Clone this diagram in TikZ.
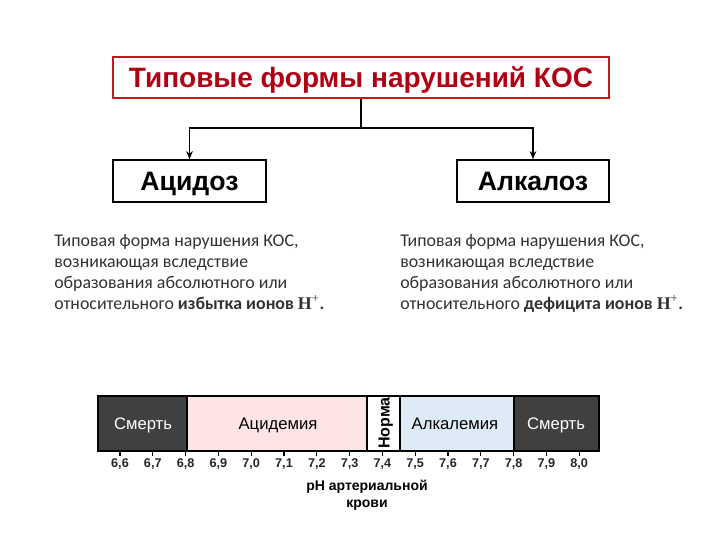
\documentclass[tikz,border=0pt]{standalone}
\usepackage{fontspec}
\setmainfont{Liberation Sans}
\newfontfamily\calfont{Carlito}
\newfontfamily\tmsfont{Liberation Serif}
\usetikzlibrary{arrows.meta}
\definecolor{titlered}{RGB}{175,0,20}
\definecolor{borderred}{RGB}{200,20,30}
\definecolor{deathgray}{RGB}{64,64,64}
\definecolor{acidpink}{RGB}{252,228,228}
\definecolor{alkblue}{RGB}{222,234,246}
\definecolor{paratext}{RGB}{50,50,50}
\tikzset{
  titlebox/.style={draw=borderred, line width=1.5pt, fill=white, minimum width=372pt, minimum height=30.75pt, inner sep=0pt,
     text height=15pt, text depth=0pt,
     font=\fontsize{21}{24}\selectfont\bfseries, text=titlered},
  kindbox/.style={draw=black, line width=1.3pt, fill=white, minimum height=31.5pt, inner sep=0pt,
     text height=14.3pt, text depth=0pt,
     font=\fontsize{20}{24}\selectfont\bfseries},
  conn/.style={line width=1.2pt, draw=black},
  para/.style={anchor=base west, align=left, inner sep=0pt, text=paratext,
     font=\calfont\fontsize{13.4}{15.75}\selectfont},
  barlabel/.style={font=\fontsize{12.5}{14}\selectfont, inner sep=0pt, text height=9pt, text depth=0pt},
  ticklabel/.style={font=\fontsize{9.5}{11}\selectfont\bfseries, text=black!85, inner sep=0pt},
  tickmark/.style={line width=0.9pt},
}
\newcommand{\Hplus}{{\tmsfont\bfseries H}\textsuperscript{\tmsfont +}}
\begin{document}
\begin{tikzpicture}[x=0.75pt, y=-0.75pt]
\useasboundingbox (0,0) rectangle (720,540);
% top
\node[titlebox] (title) at (361,77.5) {Типовые формы нарушений КОС};
\node[kindbox, minimum width=114.75pt] (acid) at (189.5,181) {Ацидоз};
\node[kindbox, minimum width=114pt] (alk) at (533,181) {Алкалоз};
\coordinate (j) at (361,128);
\draw[conn] (title.south) -- (j);
\draw[conn, -{Stealth[length=6pt,width=5pt]}] (j) -| (acid.north);
\draw[conn, -{Stealth[length=6pt,width=5pt]}] (j) -| (alk.north);
% paragraphs (anchor = baseline of last line)
\node[para] (pleft) at (54,309) {Типовая форма нарушения КОС,\\возникающая вследствие\\образования абсолютного или\\относительного \textbf{избытка ионов} \Hplus\textbf{.}};
\node[para] (pright) at (400,309) {Типовая форма нарушения КОС,\\возникающая вследствие\\образования абсолютного или\\относительного \textbf{дефицита ионов} \Hplus\textbf{.}};
% bar
\fill[deathgray] (98,396) rectangle (187,451);
\fill[acidpink] (187,396) rectangle (367,451);
\fill[white] (367,396) rectangle (400,451);
\fill[alkblue] (400,396) rectangle (514,451);
\fill[deathgray] (514,396) rectangle (599,451);
\foreach \xx in {187,367,400,514} \draw[line width=1.4pt] (\xx,396) -- (\xx,451);
\draw[line width=1.8pt] (98,396) rectangle (599,451);
\node[barlabel, text=white] (d1) at (143,423) {Смерть};
\node[barlabel] (acm) at (278,423) {Ацидемия};
\node[barlabel, font=\fontsize{12}{13}\selectfont\bfseries, text height=8.6pt, rotate=90] (norm) at (384,423) {Норма};
\node[barlabel] (alm) at (455,423) {Алкалемия};
\node[barlabel, text=white] (d2) at (556,423) {Смерть};
% ticks
\foreach \lab [count=\i from 0] in {6{,}6,6{,}7,6{,}8,6{,}9,7{,}0,7{,}1,7{,}2,7{,}3,7{,}4,7{,}5,7{,}6,7{,}7,7{,}8,7{,}9,8{,}0} {
  \draw[tickmark] ({120+32.8*\i},451) -- ({120+32.8*\i},456);
  \node[ticklabel] (t\i) at ({120+32.8*\i},464) {\lab};
}
\node[font=\fontsize{10.5}{12.5}\selectfont\bfseries, align=center, inner sep=0pt] (ph) at (367,495) {pH артериальной\\крови};
\end{tikzpicture}
\end{document}
